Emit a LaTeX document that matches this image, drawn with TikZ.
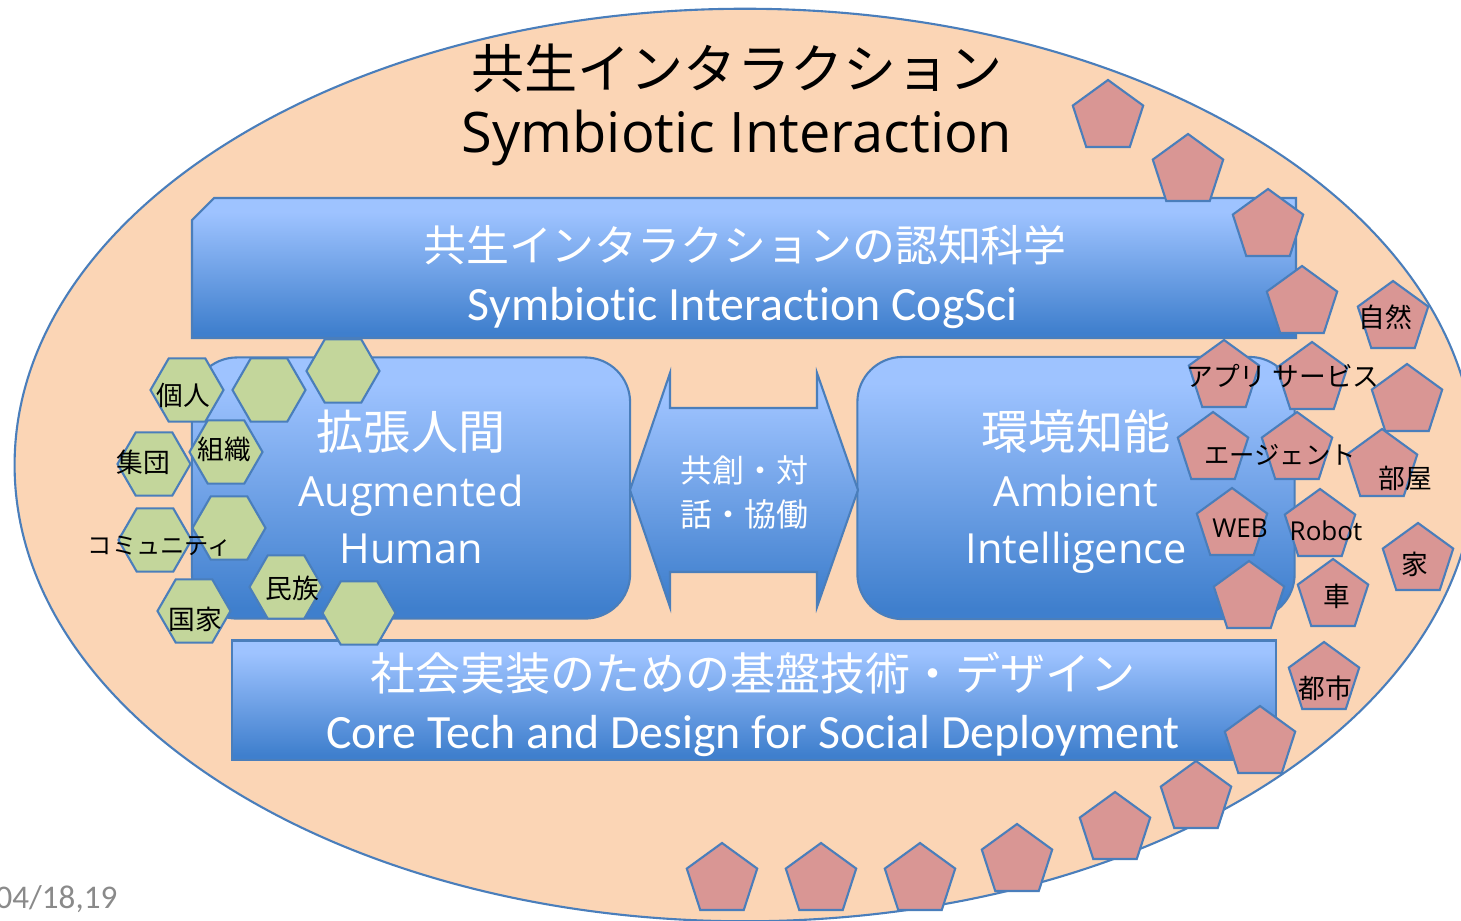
\documentclass[tikz,border=0pt]{standalone}
\usepackage{fontspec}
\setmainfont{Carlito}[Ligatures=NoCommon]
\newfontfamily\jpfont{Noto Sans CJK JP}
\newfontfamily\opensans{Open Sans}
\usetikzlibrary{shapes.geometric}

\definecolor{peach}{HTML}{FBD5B5}
\definecolor{edgeblue}{HTML}{4A7EBB}
\definecolor{paneltop}{HTML}{9EC3FF}
\definecolor{panelbot}{HTML}{3F7FCD}
\definecolor{hexgreen}{HTML}{C3D69B}
\definecolor{pentrose}{HTML}{D99694}
\definecolor{dategray}{HTML}{8A8A8A}

\pgfdeclareverticalshading{panelshade}{100bp}{color(0bp)=(panelbot); color(27bp)=(panelbot); color(70bp)=(paneltop); color(100bp)=(paneltop)}

\newcommand\pxfont[2]{\fontsize{#1}{#2}\selectfont}

\begin{document}
\begin{tikzpicture}[
  x=0.01cm, y=-0.01cm,
  world/.style   = {ellipse, draw=edgeblue, fill=peach, line width=0.6pt,
                    minimum width=14.6cm, minimum height=9.12cm},
  panel/.style   = {draw=edgeblue, line width=0.6pt, shade, shading=panelshade, inner sep=0pt},
  hexa/.style    = {regular polygon, regular polygon sides=6, minimum size=7.3mm,
                    inner sep=0pt, draw=edgeblue, fill=hexgreen, line width=0.6pt},
  penta/.style   = {regular polygon, regular polygon sides=5, minimum size=7.4mm,
                    inner sep=0pt, draw=edgeblue, fill=pentrose, line width=0.6pt},
  headjp/.style  = {font=\jpfont\pxfont{15.1}{18}, inner sep=0pt},
  headen/.style  = {font=\opensans\pxfont{15.9}{18}, inner sep=0pt},
  bandjp/.style  = {font=\jpfont\pxfont{12.2}{16}, text=white, inner sep=0pt},
  banden/.style  = {font=\pxfont{13.6}{16}, text=white, inner sep=0pt},
  boxjp/.style   = {font=\jpfont\pxfont{13.4}{16}, text=white, inner sep=0pt},
  boxen/.style   = {font=\opensans\pxfont{11.8}{16}, text=white, inner sep=0pt},
  tag/.style     = {font=\jpfont\pxfont{7.6}{9}, inner sep=0pt},
  tagen/.style   = {font=\opensans\pxfont{7.4}{9}, inner sep=0pt},
]
  \useasboundingbox (0,0) rectangle (1461,920);

  \node[world] (world) at (745,465) {};

  \node[headjp] (tjp) at (737,68) {共生インタラクション};
  \node[headen, anchor=base] (ten) at (737,152) {Symbiotic Interaction};

  % the three layers and the bridge between the two middle boxes
  \path[panel] (192,220) -- (214,198) -- (1296,198) -- (1296,338) -- (192,338) -- cycle;
  \node[panel, rounded corners=4.5mm, minimum width=4.38cm, minimum height=2.61cm] (human) at (411,488) {};
  \node[panel, rounded corners=4.5mm, minimum width=4.37cm, minimum height=2.62cm] (ambient) at (1076,488) {};
  \node[panel, minimum width=10.44cm, minimum height=1.19cm] (core) at (754,700) {};
  \path[panel] (630,490) -- (670,373) -- (670,408) -- (817,408) -- (817,373) -- (858,490)
    -- (817,607) -- (817,572) -- (670,572) -- (670,607) -- cycle;

  \node[bandjp] (cogsci-jp) at (745,245) {共生インタラクションの認知科学};
  \node[banden, anchor=base] (cogsci-en) at (743,320) {Symbiotic Interaction CogSci};
  \node[boxjp] (human-jp) at (411,432) {拡張人間};
  \node[boxen, anchor=base] (human-en) at (411,506) {Augmented};
  \node[boxen, anchor=base] (human-en2) at (411,563) {Human};
  \node[boxjp] (ambient-jp) at (1076,432) {環境知能};
  \node[boxen, anchor=base] (ambient-en) at (1076,506) {Ambient};
  \node[boxen, anchor=base] (ambient-en2) at (1076,563) {Intelligence};
  \node[bandjp, font=\jpfont\pxfont{9.1}{12.5}] (bridge1) at (744,470) {共創・対};
  \node[bandjp, font=\jpfont\pxfont{9.1}{12.5}] (bridge2) at (744,514) {話・協働};
  \node[bandjp, font=\jpfont\pxfont{12.8}{16}] (core-jp) at (753,673) {社会実装のための基盤技術・デザイン};
  \node[banden, anchor=base] (core-en) at (753,748) {Core Tech and Design for Social Deployment};

  % human side: hexagons
  \node[hexa] (hkojin) at (187,390) {};
  \node[hexa] (ha) at (269,390) {};
  \node[hexa] (hb) at (343,371) {};
  \node[hexa] (hsoshiki) at (226,452) {};
  \node[hexa] (hshudan) at (154,464) {};
  \node[hexa] (hc) at (229,528) {};
  \node[hexa] (hcomm) at (155,540) {};
  \node[hexa] (hminzoku) at (286,587) {};
  \node[hexa] (hkokka) at (194,611) {};
  \node[hexa] (hd) at (359,613) {};

  % environment side: pentagons
  \node[penta] (p1) at (1108,117) {};
  \node[penta] (p2) at (1188,171) {};
  \node[penta] (p3) at (1268,226) {};
  \node[penta] (p4) at (1302,303) {};
  \node[penta] (pshizen) at (1393,318) {};
  \node[penta] (papp) at (1224,377) {};
  \node[penta] (pservice) at (1312,379) {};
  \node[penta] (p5) at (1407,401) {};
  \node[penta] (pagent) at (1213,449) {};
  \node[penta] (pagent2) at (1297,449) {};
  \node[penta] (pheya) at (1382,466) {};
  \node[penta] (pweb) at (1232,525) {};
  \node[penta] (probot) at (1320,526) {};
  \node[penta] (pie) at (1418,560) {};
  \node[penta] (p6) at (1249,598) {};
  \node[penta] (pkuruma) at (1333,596) {};
  \node[penta] (ptoshi) at (1324,679) {};
  \node[penta] (p7) at (1260,743) {};
  \node[penta] (p8) at (1196,798) {};
  \node[penta] (p9) at (1115,829) {};
  \node[penta] (p10) at (1017,861) {};
  \node[penta] (p11) at (920,880) {};
  \node[penta] (p12) at (821,880) {};
  \node[penta] (p13) at (722,880) {};

  \node[tag] at (183,395) {個人};
  \node[tag] at (224,449) {組織};
  \node[tag] at (143,462) {集団};
  \node[tag, font=\jpfont\pxfont{6.9}{9}] at (160,546) {コミュニティ};
  \node[tag] at (292,588) {民族};
  \node[tag] at (195,619) {国家};

  \node[tag] at (1385,317) {自然};
  \node[tag] at (1283,376) {アプリ サービス};
  \node[tag, font=\jpfont\pxfont{7.2}{9}] at (1280,455) {エージェント};
  \node[tag] at (1405,478) {部屋};
  \node[tagen] at (1240,528) {WEB};
  \node[tagen] at (1326,531) {Robot};
  \node[tag] at (1415,564) {家};
  \node[tag] at (1337,596) {車};
  \node[tag] at (1325,688) {都市};

  \node[font=\pxfont{9.4}{11}, text=dategray, anchor=base west, inner sep=0pt] (date) at (-5,908) {04/18,19};
\end{tikzpicture}
\end{document}
